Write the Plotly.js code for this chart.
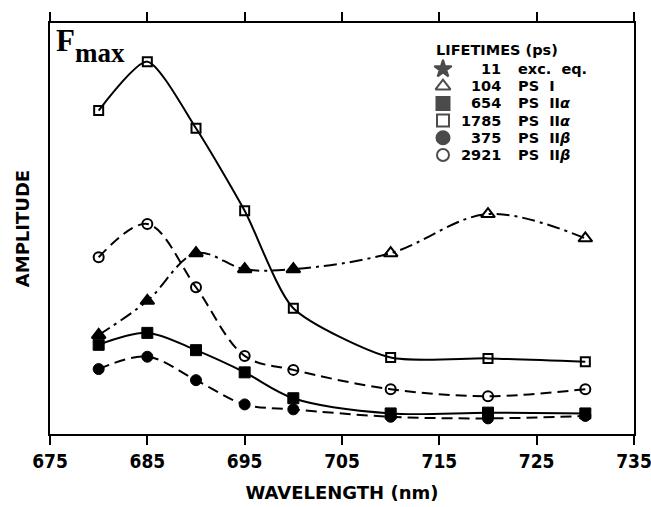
<!DOCTYPE html>
<html>
<head>
<meta charset="utf-8">
<script src="https://cdn.plot.ly/plotly-3.0.1.min.js"></script>
<style>html,body{margin:0;padding:0;background:#fff;}#chart{width:651px;height:507px;}</style>
</head>
<body>
<div id="chart"></div>
<script>
// ---- data ----
const wavelength = [680, 685, 690, 695, 700, 710, 720, 730];
const amp1785 = [78.7, 90.6, 74.4, 54.3, 30.6, 18.6, 18.4, 17.6]; // open squares, PS IIα
const amp2921 = [43.0, 51.1, 35.7, 19.0, 15.6, 10.9, 9.2, 10.9];  // open circles, PS IIβ
const amp104  = [24.1, 32.4, 44.0, 40.1, 40.1, 44.0, 53.5, 47.6]; // triangles, PS I
const amp654  = [21.7, 24.6, 20.4, 15.0, 8.7, 5.0, 5.2, 5.0];     // filled squares, PS IIα
const amp375  = [15.8, 18.8, 13.1, 7.2, 6.0, 4.2, 3.8, 4.4];      // filled circles, PS IIβ
const xTicks = [675, 685, 695, 705, 715, 725, 735];

const legendLifetimes = ['11', '104', '654', '1785', '375', '2921'];
const legendLabels = ['exc.&#160;&#160;eq.', 'PS&#160;&#160;I', 'PS&#160;&#160;II<i>α</i>', 'PS&#160;&#160;II<i>α</i>', 'PS&#160;&#160;II<i>β</i>', 'PS&#160;&#160;II<i>β</i>'];
const legendSymbols = ['star', 'triangle-up-open', 'square', 'square-open', 'circle', 'circle-open'];

// ---- styling ----
const FONT = 'DejaVu Sans Condensed, DejaVu Sans, sans-serif';
const FONT_WIDE = 'DejaVu Sans, sans-serif';
const dashed = '11px,6px';
const dashdot = '13px,5px,3px,5px';

function series(y, dash, symbol, size, lw, smooth) {
  return {
    x: wavelength, y: y, type: 'scatter', mode: 'lines+markers',
    line: {color: '#000', width: 2, dash: dash, shape: 'spline', smoothing: smooth},
    marker: {symbol: symbol, size: size, color: '#000', line: {color: '#000', width: lw}},
    showlegend: false, hoverinfo: 'skip'
  };
}

const traces = [
  series(amp1785, 'solid', 'square-open', 9, 2, 0.65),
  series(amp2921, dashed, 'circle-open', 10, 2, 1.0),
  series(amp104, dashdot,
    ['triangle-up','triangle-up','triangle-up','triangle-up','triangle-up','triangle-up-open','triangle-up-open','triangle-up-open'], 12, 2, 1.0),
  series(amp654, 'solid', 'square', 11, 1, 0.9),
  series(amp375, dashed, 'circle', 11, 1, 1.0)
];

// legend markers on an overlay axis spanning the plot area (0..1)
const plotTop = 23, plotBottom = 434, plotLeft = 50, plotRight = 634;
const fx = px => (px - plotLeft) / (plotRight - plotLeft);
const fy = py => (plotBottom - py) / (plotBottom - plotTop);
const rowY = legendLifetimes.map((_, i) => 69 + i * 17.2);

traces.push({
  x: legendSymbols.map(() => fx(443)), y: rowY.map(fy),
  xaxis: 'x2', yaxis: 'y2', type: 'scatter', mode: 'markers',
  marker: {symbol: legendSymbols, size: [13, 13, 13, 12, 13, 12], color: '#000', line: {color: '#000', width: 2}},
  showlegend: false, hoverinfo: 'skip'
});

const LEG_FONT = {family: FONT_WIDE, size: 14.5, weight: 'bold', color: '#000'};
const annotations = [];
annotations.push({xref: 'paper', yref: 'paper', x: fx(435), y: fy(50), xanchor: 'left', yanchor: 'middle',
  text: 'LIFETIMES (ps)', showarrow: false, borderpad: 0, font: LEG_FONT});
legendLifetimes.forEach((v, i) => {
  annotations.push({xref: 'paper', yref: 'paper', x: fx(502), y: fy(rowY[i]), xanchor: 'right', yanchor: 'middle',
    text: v, showarrow: false, borderpad: 0, font: LEG_FONT});
  annotations.push({xref: 'paper', yref: 'paper', x: fx(517), y: fy(rowY[i]), xanchor: 'left', yanchor: 'middle',
    text: legendLabels[i], showarrow: false, borderpad: 0, font: LEG_FONT});
});
annotations.push({xref: 'paper', yref: 'paper', x: fx(54), y: fy(41), xanchor: 'left', yanchor: 'middle',
  text: 'F', showarrow: false, font: {family: 'Liberation Serif, serif', size: 31, weight: 'bold', color: '#000'}});
annotations.push({xref: 'paper', yref: 'paper', x: fx(73), y: fy(53), xanchor: 'left', yanchor: 'middle',
  text: 'max', showarrow: false, font: {family: 'Liberation Serif, serif', size: 27, weight: 'bold', color: '#000'}});

const layout = {
  width: 651, height: 507,
  margin: {l: plotLeft, r: 651 - plotRight, t: plotTop, b: 507 - plotBottom},
  paper_bgcolor: '#fff', plot_bgcolor: '#fff',
  showlegend: false,
  font: {family: FONT, color: '#000'},
  xaxis: {
    range: [675, 735], tickvals: xTicks, ticktext: xTicks.map(String),
    ticks: 'outside', ticklen: 9, tickwidth: 2, tickcolor: '#000',
    showline: true, linewidth: 2, linecolor: '#000', mirror: 'ticks',
    showgrid: false, zeroline: false, ticklabeloverflow: 'allow',
    tickfont: {family: FONT, size: 19, weight: 'bold', color: '#000'},
    title: {text: 'WAVELENGTH (nm)', standoff: 16, font: {family: FONT_WIDE, size: 18, weight: 'bold', color: '#000'}}
  },
  yaxis: {
    range: [0, 100], showticklabels: false, ticks: '',
    showline: true, linewidth: 2, linecolor: '#000', mirror: true,
    showgrid: false, zeroline: false,
    title: {text: 'AMPLITUDE', standoff: 14, font: {family: FONT_WIDE, size: 18, weight: 'bold', color: '#000'}}
  },
  xaxis2: {overlaying: 'x', range: [0, 1], visible: false, fixedrange: true},
  yaxis2: {overlaying: 'y', range: [0, 1], visible: false, fixedrange: true},
  annotations: annotations
};

Plotly.newPlot('chart', traces, layout, {staticPlot: true, displayModeBar: false});
</script>
</body>
</html>
